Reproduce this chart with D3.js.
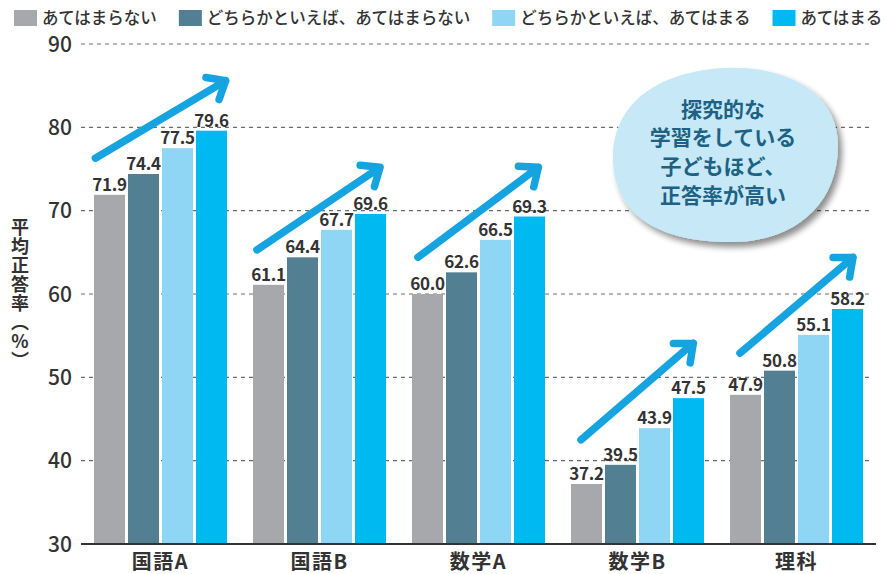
<!DOCTYPE html>
<html lang="ja">
<head>
<meta charset="utf-8">
<script src="https://cdn.jsdelivr.net/npm/d3@7"></script>
<style>
  html, body { margin: 0; padding: 0; background: #fff; }
  #chart { width: 885px; height: 574px; }
  text { font-family: "Noto Sans CJK JP", "Noto Sans", sans-serif; fill: #333; }
</style>
</head>
<body>
<div id="chart"></div>
<script>
// 教科別・探究的な学習の取り組み別の平均正答率
var subjects = ['国語A', '国語B', '数学A', '数学B', '理科'];
var seriesNames = [
    'あてはまらない',
    'どちらかといえば、あてはまらない',
    'どちらかといえば、あてはまる',
    'あてはまる'
];
var seriesColors = ['#a7a8ac', '#537f92', '#8fd6f4', '#00b9f0'];

// values per series, one entry per subject
var vNo      = [71.9, 61.1, 60.0, 37.2, 47.9];
var vRatherNo = [74.4, 64.4, 62.6, 39.5, 50.8];
var vRatherYes = [77.5, 67.7, 66.5, 43.9, 55.1];
var vYes     = [79.6, 69.6, 69.3, 47.5, 58.2];
var seriesValues = [vNo, vRatherNo, vRatherYes, vYes];

var yTicks = [30, 40, 50, 60, 70, 80, 90];

// trend arrows: start/end value and relative position inside the group
var arrowFrom = [76.3, 65.3, 64.4, 42.5, 52.9];
var arrowTo   = [85.6, 75.2, 75.2, 54.1, 64.4];
var arrowX0   = [0.01, 0.03, 0.045, 0.075, 0.075];
var arrowX1   = [0.99, 0.955, 0.95, 0.92, 0.925];

var bubbleLines = ['探究的な', '学習をしている', '子どもほど、', '正答率が高い'];

(function () {
    var W = 885, H = 574;
    var margin = { top: 44, right: 9, bottom: 30, left: 81 };
    var innerW = W - margin.left - margin.right;
    var innerH = H - margin.top - margin.bottom;

    var svg = d3.select('#chart').append('svg')
        .attr('width', W).attr('height', H)
        .attr('viewBox', '0 0 ' + W + ' ' + H);

    var defs = svg.append('defs');
    var f = defs.append('filter').attr('id', 'shadow')
        .attr('x', '-20%').attr('y', '-20%').attr('width', '140%').attr('height', '140%');
    f.append('feGaussianBlur').attr('in', 'SourceAlpha').attr('stdDeviation', 3).attr('result', 'b');
    f.append('feOffset').attr('in', 'b').attr('dx', 4).attr('dy', 5).attr('result', 'o');
    f.append('feComponentTransfer').attr('in', 'o').attr('result', 'oc')
        .append('feFuncA').attr('type', 'linear').attr('slope', 0.45);
    var m = f.append('feMerge');
    m.append('feMergeNode').attr('in', 'oc');
    m.append('feMergeNode').attr('in', 'SourceGraphic');

    var g = svg.append('g').attr('transform',
        'translate(' + margin.left + ',' + margin.top + ')');

    var x = d3.scaleBand().domain(subjects).range([0, innerW])
        .paddingInner(0.1635).paddingOuter(0.08175);
    var xs = d3.scaleBand().domain(d3.range(seriesNames.length))
        .range([0, x.bandwidth()]).paddingInner(0.088).paddingOuter(0);
    var y = d3.scaleLinear().domain([30, 90]).range([innerH, 0]);

    // dashed grid
    g.append('g').selectAll('line')
        .data(yTicks.filter(function (t) { return t > 30; }))
        .join('line')
        .attr('x1', 0).attr('x2', innerW - 4)
        .attr('y1', function (d) { return y(d); })
        .attr('y2', function (d) { return y(d); })
        .attr('stroke', '#6d6d6d').attr('stroke-width', 1.2)
        .attr('stroke-dasharray', '4 4');

    // y tick labels
    g.append('g').selectAll('text')
        .data(yTicks)
        .join('text')
        .attr('x', -9)
        .attr('y', function (d) { return y(d); })
        .attr('dy', '0.36em')
        .attr('text-anchor', 'end')
        .attr('font-size', 21).attr('font-weight', 500)
        .text(function (d) { return d; });

    // bars
    var groups = g.append('g').selectAll('g')
        .data(subjects)
        .join('g')
        .attr('transform', function (d) { return 'translate(' + x(d) + ',0)'; });

    groups.each(function (subj, si) {
        var gg = d3.select(this);
        var rows = seriesValues.map(function (vals, k) { return { k: k, v: vals[si] }; });
        gg.selectAll('rect').data(rows).join('rect')
            .attr('x', function (d) { return xs(d.k); })
            .attr('width', xs.bandwidth())
            .attr('y', function (d) { return y(d.v); })
            .attr('height', function (d) { return innerH - y(d.v); })
            .attr('fill', function (d) { return seriesColors[d.k]; });
        gg.selectAll('text.val').data(rows).join('text')
            .attr('class', 'val')
            .attr('x', function (d) { return xs(d.k) + xs.bandwidth() / 2; })
            .attr('y', function (d) { return y(d.v) - 4; })
            .attr('text-anchor', 'middle')
            .attr('font-size', 17).attr('font-weight', 600)
            .attr('letter-spacing', -0.3)
            .text(function (d) { return d.v.toFixed(1); });
    });

    // baseline
    g.append('line')
        .attr('x1', 0).attr('x2', innerW)
        .attr('y1', innerH).attr('y2', innerH)
        .attr('stroke', '#333').attr('stroke-width', 2);

    // category labels
    g.append('g').selectAll('text')
        .data(subjects)
        .join('text')
        .attr('x', function (d) { return x(d) + x.bandwidth() / 2; })
        .attr('y', innerH + 25)
        .attr('text-anchor', 'middle')
        .attr('font-size', 20).attr('font-weight', 600)
        .attr('letter-spacing', 1.5)
        .text(function (d) { return d; });

    // trend arrows
    var arrowColor = '#16a4e1';
    subjects.forEach(function (subj, i) {
        var bw = x.bandwidth();
        var x0 = x(subj) + arrowX0[i] * bw, y0 = y(arrowFrom[i]);
        var x1 = x(subj) + arrowX1[i] * bw, y1 = y(arrowTo[i]);
        var ang = Math.atan2(y0 - y1, x0 - x1);
        var len = 20, spread = 40 * Math.PI / 180;
        var ax = x1 + len * Math.cos(ang + spread), ay = y1 + len * Math.sin(ang + spread);
        var bx = x1 + len * Math.cos(ang - spread), by = y1 + len * Math.sin(ang - spread);
        var p = d3.path();
        p.moveTo(x0, y0); p.lineTo(x1, y1);
        p.moveTo(ax, ay); p.lineTo(x1, y1); p.lineTo(bx, by);
        g.append('path')
            .attr('d', p.toString())
            .attr('fill', 'none')
            .attr('stroke', arrowColor).attr('stroke-width', 7.5)
            .attr('stroke-linecap', 'round').attr('stroke-linejoin', 'round');
    });

    // callout bubble
    var bub = svg.append('g').attr('transform', 'translate(725,155)');
    bub.append('path')
        .attr('d', 'M -112,5 C -113,-55 -62,-84 0,-87 C 62,-90 114,-62 113,-8 ' +
                   'C 112,50 70,86 8,87 C -62,88 -111,62 -112,5 Z')
        .attr('fill', '#c6e8f7')
        .attr('filter', 'url(#shadow)');
    bub.selectAll('text').data(bubbleLines).join('text')
        .attr('x', -2)
        .attr('y', function (d, i) { return -46 + i * 28.7; })
        .attr('dy', '0.36em')
        .attr('text-anchor', 'middle')
        .attr('font-size', 21).attr('font-weight', 700)
        .style('fill', '#1d6283')
        .text(function (d) { return d; });

    // legend
    var lx = 14;
    var leg = svg.append('g').attr('transform', 'translate(0,10)');
    seriesNames.forEach(function (name, k) {
        leg.append('rect').attr('x', lx).attr('y', 0)
            .attr('width', 23).attr('height', 16)
            .attr('fill', seriesColors[k]);
        var t = leg.append('text').attr('x', lx + 28).attr('y', 8)
            .attr('dy', '0.36em')
            .attr('font-size', 16.5).attr('font-weight', 500)
            .text(name);
        lx += 28 + t.node().getComputedTextLength() + 22;
    });

    // y axis title (vertical)
    svg.append('text')
        .attr('x', 20).attr('y', 218)
        .style('writing-mode', 'vertical-rl')
        .style('text-orientation', 'upright')
        .attr('font-size', 18).attr('font-weight', 600)
        .attr('letter-spacing', 1)
        .text('平均正答率（%）');
})();
</script>
</body>
</html>
